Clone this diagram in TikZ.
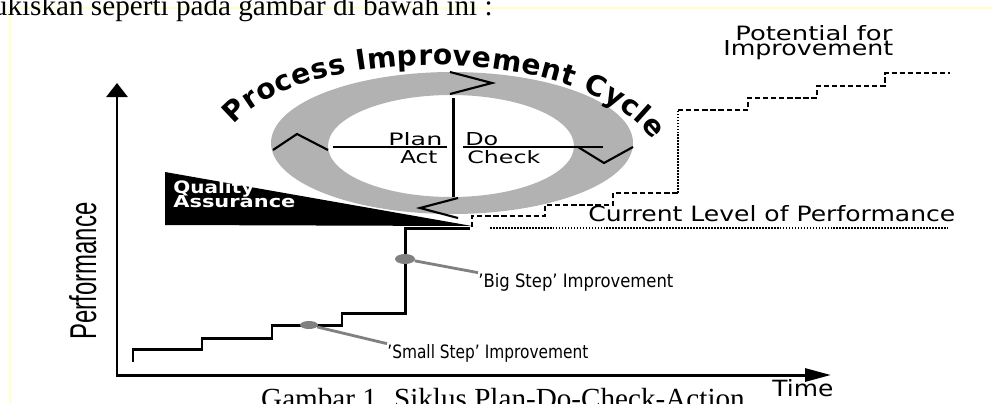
\documentclass[tikz,border=0pt]{standalone}
\usepackage{fontspec}
\setmainfont{Liberation Serif}
\setsansfont{DejaVu Sans}
\newfontfamily\perffont{Liberation Sans}
\usetikzlibrary{arrows.meta, shapes.geometric, decorations.text}
\newlength\pxl
\setlength\pxl{0.02cm}
\newcommand{\fitbox}[3]{\resizebox{#1\pxl}{#2\pxl}{#3}}
\newcommand{\cycfont}{\sffamily\bfseries\fontsize{16}{19}\selectfont}
\definecolor{pageyellow}{RGB}{255,255,200}
\definecolor{ringgray}{gray}{0.7}

\begin{document}
\begin{tikzpicture}[x=0.02cm, y=-0.02cm,
  lbl/.style={inner sep=0pt, font=\sffamily},
  pagetxt/.style={inner sep=0pt, font=\fontsize{16.6}{20}\selectfont},
  axis/.style={line width=1.7pt, line join=miter},
  stair/.style={line width=1.7pt, line join=miter},
  potential/.style={line width=1.1pt, dash pattern=on 3pt off 1.6pt},
  fine/.style={line width=1.1pt, dash pattern=on 1pt off 0.7pt},
  chev/.style={line width=1.2pt, line join=miter},
  dotmark/.style={ellipse, fill=black!50, inner sep=0pt},
  leader/.style={line width=1.6pt, black!50}]
\useasboundingbox (0,0) rectangle (993,403);
\clip (0,0) rectangle (993,403);

\draw[pageyellow, line width=0.8pt] (10,403) -- (10,8) -- (993,8);
\node[pagetxt, anchor=base east] (intro) at (493,15) {dilukiskan seperti pada gambar di bawah ini :};
\node[pagetxt, anchor=base] (caption) at (503,408) {Gambar 1. Siklus Plan-Do-Check-Action};

\coordinate (O) at (117,375);
\coordinate (ytop) at (117,83);
\coordinate (xend) at (831,375);
\draw[axis, {Triangle[length=0.28cm, width=0.42cm]}-{Triangle[length=0.52cm, width=0.26cm]}] (ytop) -- (O) -- (xend);
\node[rotate=90, anchor=base, inner sep=0pt] (perf) at (96,271) {\fitbox{137}{27}{\perffont Performance}};
\node[lbl, anchor=base west] (time) at (772,396) {\fitbox{61}{17}{Time}};

\draw[stair] (133,362) -- (133,349) -- (202,349) -- (202,338) -- (272,338) -- (272,325)
  -- (342,325) -- (342,313) -- (405,313) -- (405,228) -- (470,228);

\fill (165,172) -- (472,226) -- (165,225) -- cycle;
\node[lbl, anchor=base west, text=white] (qa1) at (173,193) {\fitbox{81}{13}{\bfseries Quality}};
\node[lbl, anchor=base west, text=white] (qa2) at (173,207) {\fitbox{122}{12}{\bfseries Assurance}};

\fill[ringgray, even odd rule] (452,143) ellipse [x radius=181, y radius=71]
  (451,146) ellipse [x radius=123, y radius=51];
\draw[chev] (450,72) -- (492,83) -- (450,94);
\draw[chev] (578,147) -- (604,163) -- (633,147);
\draw[chev] (458,198) -- (420,208) -- (458,218);
\draw[chev] (273,150) -- (297,134) -- (328,150);
\path[decorate, decoration={text along path, text align={fit to path},
  text={|\cycfont|Process Improvement Cycle}}]
  (234,125) .. controls (300,45) and (580,40) .. (652,140);

\draw[line width=1.7pt] (453,98) -- (453,197);
\draw[line width=0.9pt] (333,147) -- (447,147);
\draw[line width=0.9pt] (463,147) -- (603,147);
\node[lbl, anchor=base west] (plan) at (388,145) {\fitbox{54}{13}{Plan}};
\node[lbl, anchor=base west] (act) at (400,163) {\fitbox{37}{13}{Act}};
\node[lbl, anchor=base west] (do) at (465,145) {\fitbox{33}{13}{Do}};
\node[lbl, anchor=base west] (check) at (467,163) {\fitbox{73}{13}{Check}};

\node[dotmark, minimum width=0.36cm, minimum height=0.16cm] (ssdot) at (309,325) {};
\node[dotmark, minimum width=0.4cm, minimum height=0.2cm] (bsdot) at (405,259) {};
\node[lbl, anchor=base west] (ss) at (387,358) {\fitbox{201}{14}{'Small Step' Improvement}};
\node[lbl, anchor=base west] (bs) at (478,287) {\fitbox{195}{14}{'Big Step' Improvement}};
\draw[leader] (ssdot) -- (ss.north west);
\draw[leader] (bsdot) -- (bs.north west);

\node[lbl, anchor=base west] (cur) at (588,221) {\fitbox{367}{16}{Current Level of Performance}};
\coordinate (curA) at (490,228);
\coordinate (curB) at (948,228);
\draw[fine] (curA) -- (curB);

\node[lbl, anchor=base west] (pot1) at (735,40) {\fitbox{157}{15}{Potential for}};
\node[lbl, anchor=base west] (pot2) at (723,55) {\fitbox{170}{15}{Improvement}};
\draw[potential] (472,227) -- (472,216) -- (545,216) -- (545,205) -- (613,205) -- (613,193) -- (678,193);
\draw[fine] (678,193) -- (678,110);
\draw[potential] (678,110) -- (748,110) -- (748,98) -- (817,98) -- (817,86) -- (885,86) -- (885,73) -- (950,73);
\end{tikzpicture}
\end{document}
